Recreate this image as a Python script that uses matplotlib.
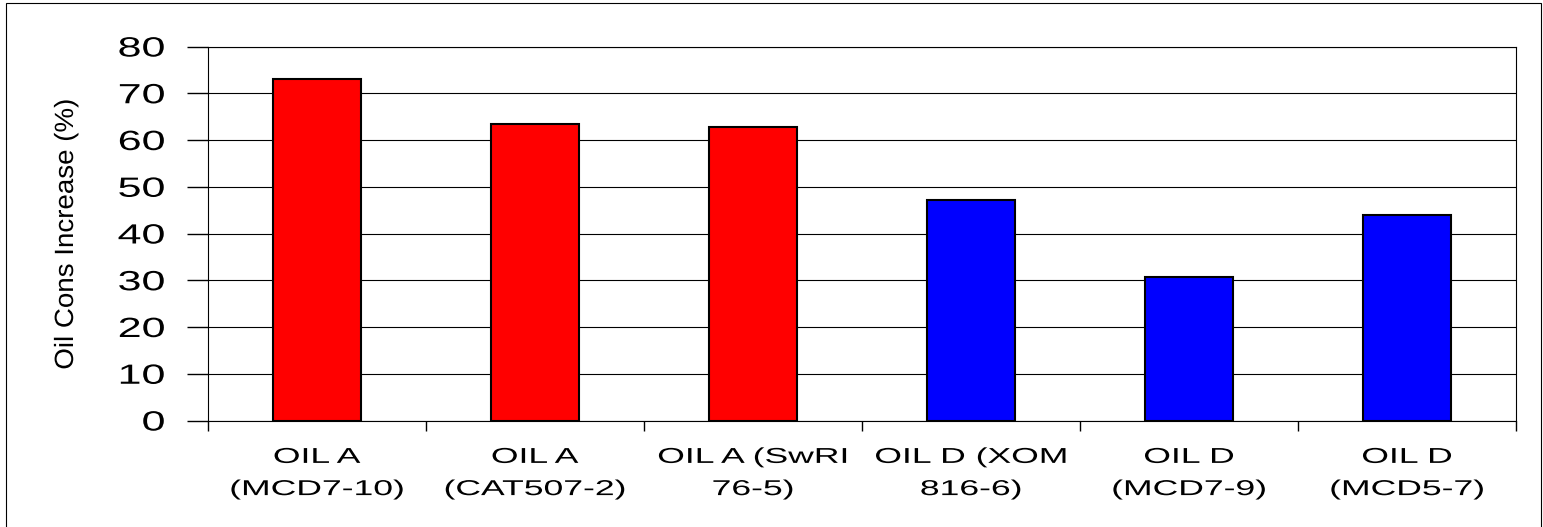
import matplotlib
matplotlib.use("Agg")
import matplotlib.pyplot as plt
from matplotlib.patches import Rectangle
from matplotlib.patheffects import AbstractPathEffect
from matplotlib.transforms import Affine2D

# data
categories = [
    "OIL A\n(MCD7-10)",
    "OIL A\n(CAT507-2)",
    "OIL A (SwRI\n76-5)",
    "OIL D (XOM\n816-6)",
    "OIL D\n(MCD7-9)",
    "OIL D\n(MCD5-7)",
]
values = [73.1, 63.5, 62.7, 47.1, 30.7, 43.9]
bar_colors = ["#FF0000", "#FF0000", "#FF0000", "#0000FF", "#0000FF", "#0000FF"]
y_ticks = [0, 10, 20, 30, 40, 50, 60, 70, 80]
y_label = "Oil Cons Increase (%)"


class Stretch(AbstractPathEffect):
    """Stretch glyphs along the baseline, like the wide Excel export font."""

    def __init__(self, sx=1.0, anchor="center"):
        super().__init__()
        self.sx = sx
        self.anchor = anchor

    def draw_path(self, renderer, gc, tpath, affine, rgbFace=None):
        ext = tpath.get_extents()
        if self.anchor == "right":
            cx = ext.x1
        elif self.anchor == "left":
            cx = ext.x0
        else:
            cx = (ext.x0 + ext.x1) / 2
        t = Affine2D().translate(-cx, 0).scale(self.sx, 1).translate(cx, 0)
        renderer.draw_path(gc, tpath, t + affine, rgbFace)


plt.rcParams["font.family"] = ["Liberation Sans", "DejaVu Sans"]

W, H = 1543, 527
fig = plt.figure(figsize=(W / 100, H / 100), dpi=100)
ax = fig.add_axes([208 / W, 1 - 420.5 / H, (1516 - 208) / W, (420.5 - 46.5) / H])

x = list(range(len(categories)))
ax.bar(x, values, width=0.4, color=bar_colors, edgecolor="black", linewidth=1.5, zorder=3)

ax.set_xlim(-0.5, len(categories) - 0.5)
ax.set_ylim(0, 80)
ax.set_yticks(y_ticks)
ax.set_xticks(x)
ax.set_xticklabels(categories, fontsize=15.5, linespacing=1.7)
ax.set_xticks([i - 0.5 for i in range(len(categories) + 1)], minor=True)

ax.tick_params(axis="x", which="major", length=0, pad=19)
ax.tick_params(axis="x", which="minor", length=7, width=1, direction="out")
ax.tick_params(axis="y", length=15, width=1, direction="out", pad=16, labelsize=20)

for lab in ax.get_xticklabels():
    lab.set_path_effects([Stretch(1.65, "center")])
for lab in ax.get_yticklabels():
    lab.set_path_effects([Stretch(1.55, "right")])

ax.yaxis.grid(True, color="black", linewidth=0.8)
ax.set_axisbelow(True)
for s in ax.spines.values():
    s.set_color("black")
    s.set_linewidth(0.8)

fig.text(66 / W, 1 - 234 / H, y_label, rotation=90, ha="center", va="center",
         fontsize=19, path_effects=[Stretch(1.05, "center")])

# thin frame around the whole chart
fig.patches.append(Rectangle((6 / W, -0.01), (1541 - 6) / W, 1.01 - 3 / H,
                             transform=fig.transFigure, fill=False,
                             edgecolor="black", linewidth=0.8))

fig.savefig("out.png", dpi=100)
